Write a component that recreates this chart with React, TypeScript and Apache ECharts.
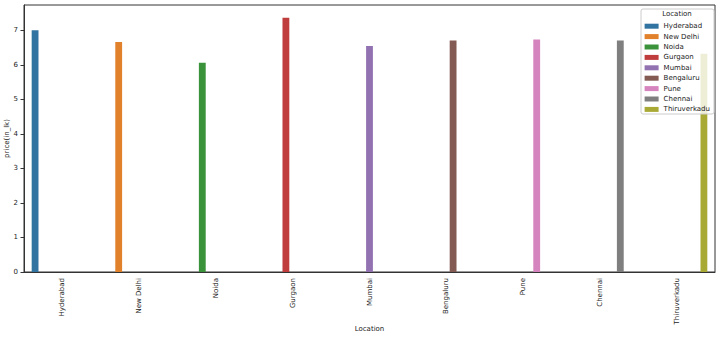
import React, { useEffect, useRef } from "react";
import * as echarts from "echarts";

const categories = ["Hyderabad", "New Delhi", "Noida", "Gurgaon", "Mumbai", "Bengaluru", "Pune", "Chennai", "Thiruverkadu"];
const values = [7.0, 6.66, 6.06, 7.36, 6.54, 6.7, 6.73, 6.7, 6.32];
const colors = ["#3274a1", "#e1812c", "#3a923a", "#c03d3e", "#9372b2", "#845b53", "#d684bd", "#7f7f7f", "#a9aa35"];
const yTicks = [0, 1, 2, 3, 4, 5, 6, 7];

const FONT = "DejaVu Sans";

export default function App() {
  const ref = useRef<HTMLDivElement>(null);
  useEffect(() => {
    const chart = echarts.init(ref.current!, null, { renderer: "svg" });
    const series = categories.map((name, i) => ({
      type: "bar",
      name,
      data: categories.map((_, j) => (j === i ? values[i] : null)),
      itemStyle: { color: colors[i] },
      barGap: "0%",
      barCategoryGap: "20%",
    }));
    chart.setOption({
      animation: false,
      grid: {
        left: 24, right: 5, top: 5, bottom: 65,
        outerBoundsMode: "none", containLabel: false,
        show: true, borderColor: "#333", borderWidth: 1, backgroundColor: "transparent",
      },
      xAxis: {
        type: "category",
        data: categories,
        name: "Location",
        nameLocation: "middle",
        nameGap: 53,
        nameMoveOverlap: false,
        nameTextStyle: { fontFamily: FONT, fontSize: 7, color: "#222" },
        axisLine: { lineStyle: { color: "#333" } },
        axisTick: { alignWithLabel: true, length: 3.5, lineStyle: { color: "#333" } },
        axisLabel: { rotate: 90, fontFamily: FONT, fontSize: 7, color: "#222", margin: 6 },
      },
      yAxis: {
        type: "value",
        min: 0,
        max: 7.73,
        interval: 1,
        name: "price(in_lk)",
        nameLocation: "middle",
        nameGap: 14,
        nameMoveOverlap: false,
        nameTextStyle: { fontFamily: FONT, fontSize: 7, color: "#222" },
        splitLine: { show: false },
        axisLine: { show: true, lineStyle: { color: "#333" } },
        axisTick: { show: true, length: 3.5, lineStyle: { color: "#333" }, customValues: yTicks },
        axisLabel: { fontFamily: FONT, fontSize: 7, color: "#222", margin: 6, customValues: yTicks },
      },
      legend: {
        orient: "vertical",
        right: 10,
        top: 22,
        data: categories,
        itemWidth: 14,
        itemHeight: 5,
        itemGap: 2,
        icon: "rect",
        padding: 0,
        textStyle: { fontFamily: FONT, fontSize: 7, color: "#222", lineHeight: 8.4 },
        z: 20,
      },
      graphic: [
        {
          type: "rect",
          shape: { x: 641, y: 9, width: 73, height: 105, r: 2 },
          style: { fill: "rgba(255,255,255,0.8)", stroke: "#ccc", lineWidth: 1 },
          z: 15,
        },
        {
          type: "text",
          x: 677,
          y: 14,
          style: { text: "Location", fontFamily: FONT, fontSize: 7, fill: "#222", textAlign: "center", textVerticalAlign: "middle" },
          z: 16,
        },
      ],
      series,
    });
    return () => chart.dispose();
  }, []);
  return <div ref={ref} style={{ width: 720, height: 337, position: "absolute", left: 0, top: 0, background: "#fff" }} />;
}
